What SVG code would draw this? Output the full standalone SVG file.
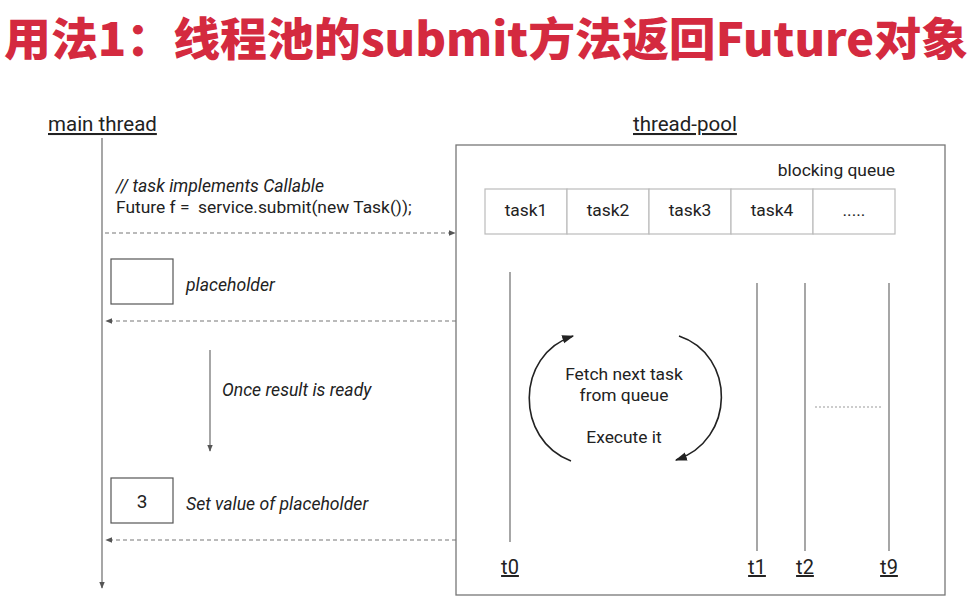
<svg xmlns="http://www.w3.org/2000/svg" width="973" height="608" viewBox="0 0 973 608">
<style>
text{font-family:Roboto,"Liberation Sans",sans-serif;fill:#222;white-space:pre}
.title{font-family:"Noto Sans CJK SC",sans-serif;font-weight:900;fill:#d42a3f;font-size:45px}
.hd{font-size:20.5px;text-decoration:underline}
.it{font-style:italic;font-size:17.6px}
.n{font-size:17.4px}
.lab{font-size:20px;text-decoration:underline;text-anchor:middle}
.ln{stroke:#777;stroke-width:1.3;fill:none}
.dash{stroke:#777;stroke-width:1.2;stroke-dasharray:4 3;fill:none}
.cell{fill:#fff;stroke:#bbb;stroke-width:1.2}
.box{fill:#fff;stroke:#555;stroke-width:1.2}
.arc{stroke:#222;stroke-width:1.6;fill:none}
</style>
<defs>
<marker id="ah" viewBox="0 0 10 10" refX="9" refY="5" markerWidth="7" markerHeight="7" orient="auto" markerUnits="userSpaceOnUse"><path d="M0 1 L10 5 L0 9 Z" fill="#555"/></marker>
<marker id="ahb" viewBox="0 0 10 10" refX="9" refY="5" markerWidth="12" markerHeight="12" orient="auto" markerUnits="userSpaceOnUse"><path d="M0 1.5 L10 5 L0 8.5 Z" fill="#222"/></marker>
</defs>
<rect width="973" height="608" fill="#fff"/>
<text class="title" x="4" y="56" textLength="964" lengthAdjust="spacingAndGlyphs">用法1：线程池的submit方法返回Future对象</text>

<g id="main-thread">
<text class="hd" x="48" y="131">main thread</text>
<line class="ln" x1="102" y1="138" x2="102" y2="588" marker-end="url(#ah)"/>
</g>
<g id="submit-code">
<text class="it" x="116" y="192">// task implements Callable</text>
<text class="n" x="116" y="213">Future f =  service.submit(new Task());</text>
</g>
<g id="placeholder">
<rect class="box" x="111" y="259" width="62" height="45"/>
<text class="it" x="186" y="291">placeholder</text>
</g>
<g id="once-ready">
<text class="it" x="222" y="396">Once result is ready</text>
</g>
<g id="set-value">
<rect class="box" x="111" y="478" width="62" height="45"/>
<text class="n" x="142" y="508" text-anchor="middle" style="font-size:19px">3</text>
<text class="it" x="186" y="510">Set value of placeholder</text>
</g>

<g id="thread-pool">
<text class="hd" x="633" y="131">thread-pool</text>
<rect x="456" y="145" width="489" height="450" fill="none" stroke="#777" stroke-width="1.3"/>
</g>
<g id="blocking-queue">
<text class="n" x="895" y="176" text-anchor="end">blocking queue</text>
<rect class="cell" x="485" y="189" width="82" height="45"/>
<rect class="cell" x="567" y="189" width="82" height="45"/>
<rect class="cell" x="649" y="189" width="82" height="45"/>
<rect class="cell" x="731" y="189" width="82" height="45"/>
<rect class="cell" x="813" y="189" width="82" height="45"/>
<text class="n" x="526" y="216" text-anchor="middle">task1</text>
<text class="n" x="608" y="216" text-anchor="middle">task2</text>
<text class="n" x="690" y="216" text-anchor="middle">task3</text>
<text class="n" x="772" y="216" text-anchor="middle">task4</text>
<text class="n" x="854" y="216" text-anchor="middle">.....</text>
</g>
<g id="t0">
<line class="ln" x1="510" y1="272" x2="510" y2="542"/>
<text class="lab" x="510" y="574">t0</text>
</g>
<g id="t1">
<line class="ln" x1="757" y1="283" x2="757" y2="551"/>
<text class="lab" x="757" y="574">t1</text>
</g>
<g id="t2">
<line class="ln" x1="805" y1="283" x2="805" y2="551"/>
<text class="lab" x="805" y="574">t2</text>
</g>
<g id="t9">
<line class="ln" x1="889" y1="283" x2="889" y2="551"/>
<text class="lab" x="889" y="574">t9</text>
</g>
<line x1="815" y1="407" x2="882" y2="407" stroke="#999" stroke-width="1.2" stroke-dasharray="2 2"/>
<g id="worker-loop">
<text class="n" x="624" y="380" text-anchor="middle">Fetch next task</text>
<text class="n" x="624" y="401" text-anchor="middle">from queue</text>
<text class="n" x="624" y="443" text-anchor="middle">Execute it</text>
</g>

<g id="connectors">
<line class="dash" x1="105" y1="233" x2="455" y2="233" marker-end="url(#ah)"/>
<line class="dash" x1="456" y1="321" x2="106" y2="321" marker-end="url(#ah)"/>
<line class="dash" x1="456" y1="540" x2="106" y2="540" marker-end="url(#ah)"/>
<line class="ln" x1="210" y1="350" x2="210" y2="451" marker-end="url(#ah)"/>
<path class="arc" d="M571 461 C515 440 515 355 573 336" marker-end="url(#ahb)"/>
<path class="arc" d="M679 336 C736 355 736 440 676 460" marker-end="url(#ahb)"/>
</g>
</svg>
